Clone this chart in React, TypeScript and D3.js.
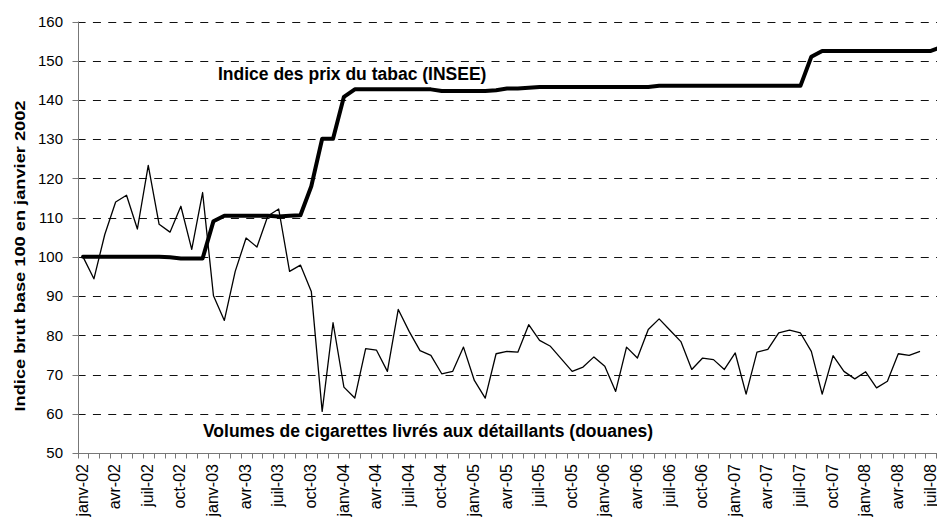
import React from "react";
import * as d3 from "d3";

// ---- data ----
const tickLabels = [
  "janv-02", "avr-02", "juil-02", "oct-02",
  "janv-03", "avr-03", "juil-03", "oct-03",
  "janv-04", "avr-04", "juil-04", "oct-04",
  "janv-05", "avr-05", "juil-05", "oct-05",
  "janv-06", "avr-06", "juil-06", "oct-06",
  "janv-07", "avr-07", "juil-07", "oct-07",
  "janv-08", "avr-08", "juil-08",
];

// Volumes de cigarettes livrés aux détaillants (douanes), janv-02 .. juin-08
const volumes = [
  100, 94.4, 105.7, 114.0, 115.7, 107.1, 123.3, 108.3, 106.3, 112.9, 101.9, 116.4,
  90.1, 83.8, 96.3, 104.8, 102.5, 110.4, 112.2, 96.3, 97.9, 91.2, 60.6, 83.2,
  66.8, 64.0, 76.6, 76.2, 70.8, 86.6, 81.0, 76.1, 74.9, 70.2, 70.8, 77.0,
  68.5, 64.0, 75.3, 75.9, 75.7, 82.7, 78.7, 77.2, 74.0, 70.8, 71.9, 74.5,
  72.1, 65.7, 77.0, 74.2, 81.5, 84.2, 81.3, 78.4, 71.3, 74.2, 73.8, 71.3,
  75.5, 65.0, 75.7, 76.4, 80.6, 81.3, 80.6, 75.9, 65.0, 74.8, 70.8, 68.9,
  70.7, 66.6, 68.3, 75.3, 74.9, 75.9,
];

// Indice des prix du tabac (INSEE), janv-02 .. août-08
const prices = [
  100, 100, 100, 100, 100, 100, 100, 100, 99.9, 99.6, 99.6, 99.6,
  109.1, 110.5, 110.5, 110.5, 110.5, 110.5, 110.3, 110.5, 110.6, 118.0, 130.1, 130.1,
  140.8, 142.7, 142.7, 142.7, 142.7, 142.7, 142.7, 142.7, 142.7, 142.3, 142.3, 142.3,
  142.3, 142.3, 142.5, 142.9, 142.9, 143.1, 143.3, 143.3, 143.3, 143.3, 143.3, 143.3,
  143.3, 143.3, 143.3, 143.3, 143.3, 143.6, 143.6, 143.6, 143.6, 143.6, 143.6, 143.6,
  143.6, 143.6, 143.6, 143.6, 143.6, 143.6, 143.6, 151.0, 152.5, 152.5, 152.5, 152.5,
  152.5, 152.5, 152.5, 152.5, 152.5, 152.5, 152.5, 153.5,
];

const yTicks = [50, 60, 70, 80, 90, 100, 110, 120, 130, 140, 150, 160];

const yTitle = "Indice brut base 100 en janvier 2002";
const priceLabel = "Indice des prix du tabac (INSEE)";
const volumeLabel = "Volumes de cigarettes livrés aux détaillants (douanes)";

// ---- layout ----
const W = 937;
const H = 518;
const FONT = "'Liberation Sans', Arial, Helvetica, sans-serif";
const nMonths = 80;

export default function App() {
  const x = d3.scaleLinear().domain([0, nMonths]).range([77.6, 77.6 + nMonths * 10.87]);
  const y = d3.scaleLinear().domain([50, 160]).range([453, 21.5]);
  const left = x(0);
  const right = x(nMonths);

  const line = d3
    .line<number>()
    .x((_, i) => x(i + 0.5))
    .y((d) => y(d));

  const monthTicks = d3.range(0, nMonths + 1);

  return (
    <svg
      width={W}
      height={H}
      style={{ position: "absolute", left: 0, top: 0, background: "#fff" }}
      fontFamily={FONT}
    >
      <defs>
        <clipPath id="clip">
          <rect x={0} y={0} width={W} height={H} />
        </clipPath>
      </defs>
      <rect x={0} y={0} width={W} height={H} fill="#fff" />
      <g clipPath="url(#clip)">
        {/* gridlines */}
        {yTicks
          .filter((t) => t > 50)
          .map((t) => (
            <line
              key={"g" + t}
              x1={left}
              x2={right}
              y1={Math.round(y(t)) + 0.5}
              y2={Math.round(y(t)) + 0.5}
              stroke="#111"
              strokeWidth={1}
              strokeDasharray="8 7.33"
            />
          ))}

        {/* y axis */}
        <line x1={78.5} x2={78.5} y1={y(160)} y2={y(50)} stroke="#777" strokeWidth={1} />
        {yTicks.map((t) => (
          <g key={"yt" + t}>
            <line
              x1={72.5}
              x2={78.5}
              y1={Math.round(y(t)) + 0.5}
              y2={Math.round(y(t)) + 0.5}
              stroke="#777"
            />
            <text
              x={63}
              y={y(t)}
              dy="0.35em"
              textAnchor="end"
              fontSize={15}
              fill="#000"
            >
              {t}
            </text>
          </g>
        ))}

        {/* x axis */}
        <line x1={78} x2={right} y1={453.5} y2={453.5} stroke="#777" strokeWidth={1} />
        {monthTicks.map((m) => (
          <line
            key={"xt" + m}
            x1={Math.round(x(m)) + 0.5}
            x2={Math.round(x(m)) + 0.5}
            y1={453.5}
            y2={458.5}
            stroke="#777"
          />
        ))}
        {tickLabels.map((lab, k) => {
          const cx = x(k * 3 + 0.5) - 1;
          return (
            <text
              key={"xl" + lab}
              transform={`translate(${cx},464) rotate(-90)`}
              textAnchor="end"
              dy="0.35em"
              fontSize={16}
              fill="#000"
            >
              {lab}
            </text>
          );
        })}

        {/* series */}
        <path
          d={line(prices) || ""}
          fill="none"
          stroke="#000"
          strokeWidth={4}
          strokeLinejoin="round"
          strokeLinecap="round"
        />
        <path
          d={line(volumes) || ""}
          fill="none"
          stroke="#000"
          strokeWidth={1.3}
          strokeLinejoin="round"
        />

        {/* annotations */}
        <text x={218} y={80} fontSize={17.5} fontWeight="bold" fill="#000">
          {priceLabel}
        </text>
        <text x={203} y={437} fontSize={17.5} fontWeight="bold" fill="#000">
          {volumeLabel}
        </text>

        {/* y title */}
        <text
          transform="translate(24.5,256) rotate(-90)"
          textAnchor="middle"
          fontSize={14}
          fontWeight="bold"
          textLength={311}
          lengthAdjust="spacingAndGlyphs"
          fill="#000"
        >
          {yTitle}
        </text>
      </g>
    </svg>
  );
}
